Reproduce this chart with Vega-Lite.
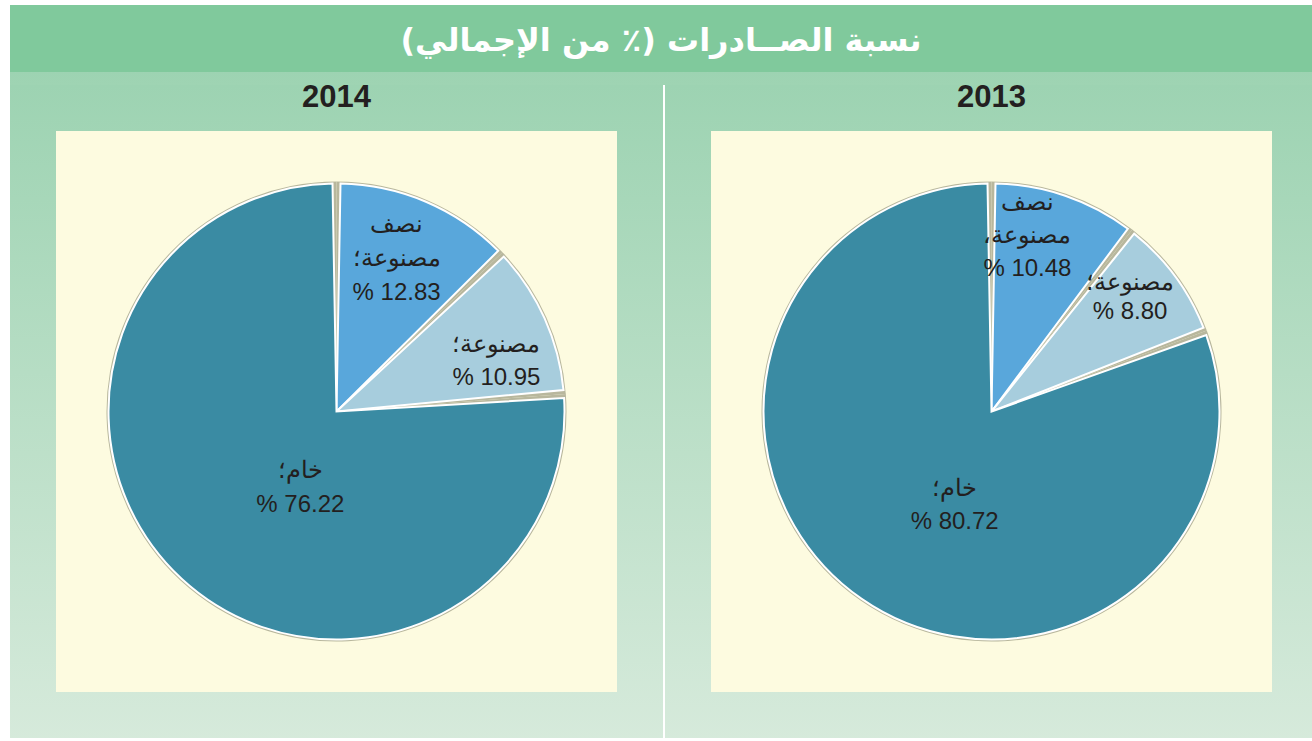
{
  "$schema": "https://vega.github.io/schema/vega-lite/v6.json",
  "background": "#ffffff",
  "padding": {"left": 10, "top": 2, "right": 0, "bottom": 0},
  "datasets": {
    "exports": [
      {"year": "2014", "type": "نصف مصنوعة", "k": 1, "value": 12.83, "label": "\u202bنصف\u202c\n\u202bمصنوعة؛\u202c\n\u202b12.83 %\u202c"},
      {"year": "2014", "type": "مصنوعة", "k": 2, "value": 10.95, "label": "\u202bمصنوعة؛\u202c\n\u202b10.95 %\u202c"},
      {"year": "2014", "type": "خام", "k": 3, "value": 76.22, "label": "\u202bخام؛\u202c\n\u202b76.22 %\u202c"},
      {"year": "2013", "type": "نصف مصنوعة", "k": 1, "value": 10.48, "label": "\u202bنصف\u202c\n\u202bمصنوعة،\u202c\n\u202b10.48 %\u202c"},
      {"year": "2013", "type": "مصنوعة", "k": 2, "value": 8.80, "label": "\u202bمصنوعة؛\u202c\n\u202b8.80 %\u202c"},
      {"year": "2013", "type": "خام", "k": 3, "value": 80.72, "label": "\u202bخام؛\u202c\n\u202b80.72 %\u202c"}
    ],
    "heading": [{"t": "\u202bنسبة الصــادرات (٪ من الإجمالي)\u202c"}]
  },
  "config": {
    "view": {"stroke": null},
    "concat": {"spacing": 0},
    "title": {"fontSize": 31, "fontWeight": "bold", "font": "Liberation Sans", "color": "#231f20", "anchor": "middle", "baseline": "alphabetic", "offset": -6, "frame": "group"},
    "text": {"font": "Liberation Sans", "fontSize": 24, "color": "#231f20", "align": "center", "baseline": "middle", "lineBreak": "\n", "lineHeight": 33}
  },
  "spacing": -26,
  "vconcat": [
    {
      "width": 1256,
      "height": 34,
      "view": {
        "strokeWidth": 46,
        "fill": {"gradient": "linear", "x1": 0, "y1": -0.676, "x2": 0, "y2": 1.676, "stops": [
          {"offset": 0, "color": "#80c99c"},
          {"offset": 0.8375, "color": "#80c99c"},
          {"offset": 0.8375, "color": "#9dd3b2"},
          {"offset": 1, "color": "#9fd4b3"}
        ]},
        "stroke": {"gradient": "linear", "x1": 0, "y1": -0.676, "x2": 0, "y2": 1.676, "stops": [
          {"offset": 0, "color": "#80c99c"},
          {"offset": 0.8375, "color": "#80c99c"},
          {"offset": 0.8375, "color": "#9dd3b2"},
          {"offset": 1, "color": "#9fd4b3"}
        ]}
      },
      "data": {"name": "heading"},
      "mark": {"type": "text", "font": "DejaVu Sans", "fontWeight": "bold", "fontSize": 32, "color": "#ffffff", "dy": -4},
      "encoding": {"text": {"field": "t"}}
    },
    {
      "spacing": 2,
      "hconcat": [
        {
          "title": {"text": "2014"},
          "width": 607,
          "height": 607,
          "view": {
            "fill": "#fdfbe0",
            "strokeWidth": 46,
            "stroke": {"gradient": "linear", "x1": 0, "y1": -0.038, "x2": 0, "y2": 1.043, "stops": [
              {"offset": 0, "color": "#9dd3b2"},
              {"offset": 1, "color": "#d6eadb"}
            ]}
          },
          "data": {"name": "exports"},
          "transform": [{"filter": "datum.year == '2014'"}],
          "encoding": {
            "theta": {"field": "value", "type": "quantitative", "stack": true},
            "order": {"field": "k", "type": "quantitative"}
          },
          "layer": [
            {"mark": {"type": "arc", "outerRadius": 230, "color": "#b8b79d"}},
            {
              "mark": {"type": "arc", "outerRadius": 228, "padAngle": 0.035, "stroke": "#ffffff", "strokeWidth": 2},
              "encoding": {
                "color": {"field": "type", "type": "nominal", "legend": null,
                  "scale": {"domain": ["نصف مصنوعة", "مصنوعة", "خام"], "range": ["#59a7db", "#a7cddd", "#3a8ba3"]}}
              }
            },
            {
              "mark": {"type": "text", "dx": -16, "dy": -8, "lineHeight": 34},
              "encoding": {"text": {"condition": {"test": "datum.k == 1", "field": "label"}, "value": ""}, "radius": {"value": 194}}
            },
            {
              "mark": {"type": "text", "dx": 2, "dy": 4},
              "encoding": {"text": {"condition": {"test": "datum.k == 2", "field": "label"}, "value": ""}, "radius": {"value": 173}}
            },
            {
              "mark": {"type": "text", "dx": 10, "dy": 10, "lineHeight": 34},
              "encoding": {"text": {"condition": {"test": "datum.k == 3", "field": "label"}, "value": ""}, "radius": {"value": 68}}
            }
          ]
        },
        {
          "title": {"text": "2013"},
          "width": 607,
          "height": 607,
          "view": {
            "fill": "#fdfbe0",
            "strokeWidth": 46,
            "stroke": {"gradient": "linear", "x1": 0, "y1": -0.038, "x2": 0, "y2": 1.043, "stops": [
              {"offset": 0, "color": "#9dd3b2"},
              {"offset": 1, "color": "#d6eadb"}
            ]}
          },
          "data": {"name": "exports"},
          "transform": [{"filter": "datum.year == '2013'"}],
          "encoding": {
            "theta": {"field": "value", "type": "quantitative", "stack": true},
            "order": {"field": "k", "type": "quantitative"}
          },
          "layer": [
            {"mark": {"type": "arc", "outerRadius": 230, "color": "#b8b79d"}},
            {
              "mark": {"type": "arc", "outerRadius": 228, "padAngle": 0.035, "stroke": "#ffffff", "strokeWidth": 2},
              "encoding": {
                "color": {"field": "type", "type": "nominal", "legend": null,
                  "scale": {"domain": ["نصف مصنوعة", "مصنوعة", "خام"], "range": ["#59a7db", "#a7cddd", "#3a8ba3"]}}
              }
            },
            {
              "mark": {"type": "text", "dx": -31, "dy": -13},
              "encoding": {"text": {"condition": {"test": "datum.k == 1", "field": "label"}, "value": ""}, "radius": {"value": 207}}
            },
            {
              "mark": {"type": "text", "dx": -20, "dy": -12, "lineHeight": 29},
              "encoding": {"text": {"condition": {"test": "datum.k == 2", "field": "label"}, "value": ""}, "radius": {"value": 197}}
            },
            {
              "mark": {"type": "text", "dx": 11, "dy": 8},
              "encoding": {"text": {"condition": {"test": "datum.k == 3", "field": "label"}, "value": ""}, "radius": {"value": 84}}
            }
          ]
        }
      ]
    }
  ]
}
